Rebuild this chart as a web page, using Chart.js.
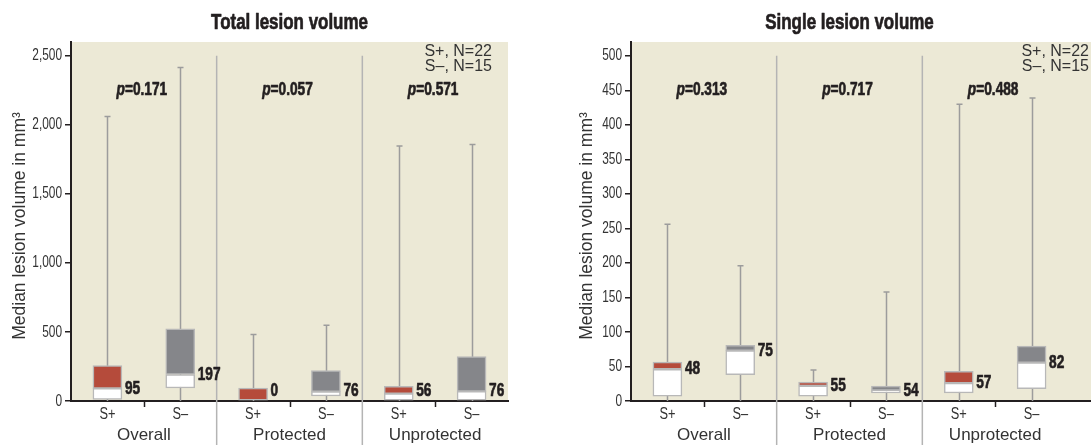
<!DOCTYPE html>
<html>
<head>
<meta charset="utf-8">
<script src="https://cdn.jsdelivr.net/npm/chart.js@4/dist/chart.umd.min.js"></script>
<style>
  body { margin: 0; background: #fff; }
  #wrap { position: relative; width: 1091px; height: 445px; overflow: hidden; }
  #leftChart { position: absolute; left: 0; top: 0; }
  #rightChart { position: absolute; left: 545px; top: 0; }
</style>
</head>
<body>
<div id="wrap">
  <canvas id="leftChart" width="545" height="445"></canvas>
  <canvas id="rightChart" width="546" height="445"></canvas>
</div>
<script>
// categories shared by both panels
const categories = ['S+', 'S–', 'S+', 'S–', 'S+', 'S–'];
const groups = ['Overall', 'Protected', 'Unprotected'];
const sampleNotes = ['S+, N=22', 'S–, N=15'];

// Total lesion volume (mm3)
const totalTicks = [0, 500, 1000, 1500, 2000, 2500];
const totalMin = [0, 0, 0, 0, 0, 0];
const totalQ1 = [12, 94, 0, 36, 0, 0];
const totalMedian = [92, 192, 0, 68, 53, 70];
const totalQ3 = [256, 522, 94, 220, 106, 322];
const totalMax = [2060, 2416, 481, 549, 1846, 1858];
const totalLabels = ['95', '197', '0', '76', '56', '76'];
const totalP = ['0.171', '0.057', '0.571'];

// Single lesion volume (mm3)
const singleTicks = [0, 50, 100, 150, 200, 250, 300, 350, 400, 450, 500];
const singleMin = [0, 0, 0, 0, 0, 0];
const singleQ1 = [7, 38, 7, 11.6, 11.6, 18];
const singleMedian = [46, 73, 22, 15.5, 26, 55.5];
const singleQ3 = [56.4, 80.6, 27.5, 21.7, 43, 79.6];
const singleMax = [256, 196, 45, 158, 430, 439];
const singleLabels = ['48', '75', '55', '54', '57', '82'];
const singleP = ['0.313', '0.717', '0.488'];

const SANS = '"Liberation Sans", Arial, sans-serif';
const DARK = '#231f20';
const BEIGE = '#ece9d6';
const RED = '#b54b3b';
const GREY = '#85868a';

// the original uses a condensed face, so squeeze Liberation Sans sideways
function squeezeText(ctx, text, x, y, font, align, sx, heavy) {
  ctx.save();
  ctx.font = font;
  ctx.textAlign = align;
  ctx.textBaseline = 'middle';
  ctx.translate(x, y);
  ctx.scale(sx, 1);
  ctx.fillText(text, 0, 0);
  if (heavy) {
    ctx.strokeStyle = ctx.fillStyle;
    ctx.lineWidth = heavy;
    ctx.lineJoin = 'round';
    ctx.strokeText(text, 0, 0);
  }
  ctx.restore();
}

function makePlugin(d) {
  return {
    id: 'boxExtras',
    beforeDraw(chart) {
      const a = chart.chartArea, ctx = chart.ctx;
      ctx.save();
      ctx.fillStyle = BEIGE;
      const right = d.bgToEdge ? chart.width : a.right;
      ctx.fillRect(a.left, a.top, right - a.left, a.bottom - a.top);
      ctx.restore();
    },
    beforeDatasetsDraw(chart) {
      const ctx = chart.ctx, x = chart.scales.x, y = chart.scales.y;
      const ticks = y.ticks;
      const topY = y.getPixelForValue(ticks[ticks.length - 1].value);
      ctx.save();
      // group separators
      ctx.strokeStyle = '#b4b4b4';
      ctx.lineWidth = 1.5;
      [1, 3].forEach(i => {
        const sx = (x.getPixelForValue(i) + x.getPixelForValue(i + 1)) / 2;
        ctx.beginPath();
        ctx.moveTo(sx, topY);
        ctx.lineTo(sx, chart.height);
        ctx.stroke();
      });
      // whiskers
      ctx.strokeStyle = '#9c9c9c';
      ctx.lineWidth = 1.5;
      d.max.forEach((mx, i) => {
        const px = Math.round(x.getPixelForValue(i)) + 0.5;
        const top = y.getPixelForValue(mx);
        ctx.beginPath();
        ctx.moveTo(px, y.getPixelForValue(d.min[i]));
        ctx.lineTo(px, top);
        ctx.moveTo(px - 3, top);
        ctx.lineTo(px + 3, top);
        ctx.stroke();
      });
      ctx.restore();
    },
    afterDraw(chart) {
      const ctx = chart.ctx, a = chart.chartArea, x = chart.scales.x, y = chart.scales.y;
      ctx.save();
      ctx.fillStyle = DARK;
      // title
      squeezeText(ctx, d.title, (a.left + a.right) / 2, 23, 'bold 22px ' + SANS, 'center', 0.77, 0.7);

      // p values
      d.p.forEach((pv, g) => {
        const cx = (x.getPixelForValue(g * 2) + x.getPixelForValue(g * 2 + 1)) / 2 - 2;
        const sq = 0.74;
        ctx.font = 'italic bold 18.5px ' + SANS;
        const w1 = ctx.measureText('p').width * sq;
        ctx.font = 'bold 18.5px ' + SANS;
        const rest = '=' + pv;
        const w2 = ctx.measureText(rest).width * sq;
        const sx = cx - (w1 + w2) / 2;
        squeezeText(ctx, 'p', sx, 90, 'italic bold 18.5px ' + SANS, 'left', sq, 0.7);
        squeezeText(ctx, rest, sx + w1, 90, 'bold 18.5px ' + SANS, 'left', sq, 0.7);
      });

      // median labels
      d.labels.forEach((t, i) => {
        const lx = x.getPixelForValue(i) + 14.5 + 3;
        const ly = Math.min(y.getPixelForValue(d.median[i]), a.bottom - 10);
        squeezeText(ctx, t, lx, ly, 'bold 19px ' + SANS, 'left', 0.72, 0.7);
      });

      // y tick labels
      ctx.fillStyle = '#333';
      y.ticks.forEach(t => {
        squeezeText(ctx, t.value.toLocaleString('en-US'), a.left - 9, y.getPixelForValue(t.value),
          '16.5px ' + SANS, 'right', 0.72);
      });
      // x tick labels
      categories.forEach((c, i) => {
        squeezeText(ctx, c, x.getPixelForValue(i), 415, '16px ' + SANS, 'center', 0.8);
      });

      // y axis title
      ctx.save();
      ctx.translate(d.yTitleX, 226);
      ctx.rotate(-Math.PI / 2);
      ctx.font = '17.5px ' + SANS;
      ctx.textAlign = 'center';
      ctx.textBaseline = 'middle';
      ctx.fillText('Median lesion volume in mm³', 0, 0);
      ctx.restore();

      // sample size note
      ctx.font = '16px ' + SANS;
      ctx.textAlign = 'right';
      ctx.textBaseline = 'middle';
      ctx.fillText(sampleNotes[0], d.noteRight, 52);
      ctx.fillText(sampleNotes[1], d.noteRight, 67);

      // group labels and ticks
      ctx.font = '17px ' + SANS;
      ctx.textAlign = 'center';
      ctx.strokeStyle = DARK;
      ctx.lineWidth = 1.5;
      groups.forEach((gname, g) => {
        const cx = (x.getPixelForValue(g * 2) + x.getPixelForValue(g * 2 + 1)) / 2;
        ctx.fillText(gname, cx, 435);
        ctx.beginPath();
        ctx.moveTo(Math.round(cx) + 0.5, a.bottom);
        ctx.lineTo(Math.round(cx) + 0.5, a.bottom + 6);
        ctx.stroke();
      });

      // axis line continues to the edge on the cropped panel
      if (d.bgToEdge) {
        ctx.lineWidth = 2;
        ctx.beginPath();
        ctx.moveTo(a.right, Math.round(a.bottom));
        ctx.lineTo(chart.width, Math.round(a.bottom));
        ctx.stroke();
      }
      ctx.restore();
    }
  };
}

function makeChart(id, d) {
  const boxColors = categories.map(c => c === 'S+' ? RED : GREY);
  new Chart(document.getElementById(id), {
    type: 'bar',
    data: {
      labels: categories,
      datasets: [
        {
          data: d.q1.map((v, i) => [v, d.median[i]]),
          backgroundColor: '#ffffff'
        },
        {
          data: d.median.map((v, i) => [v, d.q3[i]]),
          backgroundColor: boxColors
        }
      ]
    },
    options: {
      responsive: false,
      animation: false,
      layout: { padding: { top: 42, left: d.padLeft, right: d.padRight, bottom: 0 } },
      datasets: {
        bar: {
          grouped: false,
          barThickness: 29,
          borderWidth: 1.5,
          borderColor: '#b8b8b8',
          borderSkipped: false
        }
      },
      scales: {
        x: {
          grid: { display: false, drawTicks: false },
          border: { display: true, color: DARK, width: 2 },
          ticks: { display: false },
          afterFit(s) { s.height = 44; }
        },
        y: {
          min: 0,
          max: d.yMax,
          ticks: { display: false },
          afterBuildTicks(s) { s.ticks = d.ticks.map(v => ({ value: v })); },
          grid: { drawOnChartArea: false, drawTicks: true, tickLength: 6, color: DARK, lineWidth: 1.5 },
          border: { display: true, color: DARK, width: 2 },
          afterFit(s) { s.width = d.yWidth; }
        }
      },
      plugins: { legend: { display: false }, tooltip: { enabled: false } }
    },
    plugins: [makePlugin(d)]
  });
}

makeChart('leftChart', {
  title: 'Total lesion volume',
  ticks: totalTicks,
  min: totalMin, q1: totalQ1, median: totalMedian, q3: totalQ3, max: totalMax,
  labels: totalLabels, p: totalP,
  yMax: 2600,
  padLeft: 0, yWidth: 71, padRight: 37,
  yTitleX: 20, noteRight: 492, bgToEdge: false
});

makeChart('rightChart', {
  title: 'Single lesion volume',
  ticks: singleTicks,
  min: singleMin, q1: singleQ1, median: singleMedian, q3: singleQ3, max: singleMax,
  labels: singleLabels, p: singleP,
  yMax: 520,
  padLeft: 22, yWidth: 64, padRight: 23,
  yTitleX: 42, noteRight: 544, bgToEdge: true
});
</script>
</body>
</html>
